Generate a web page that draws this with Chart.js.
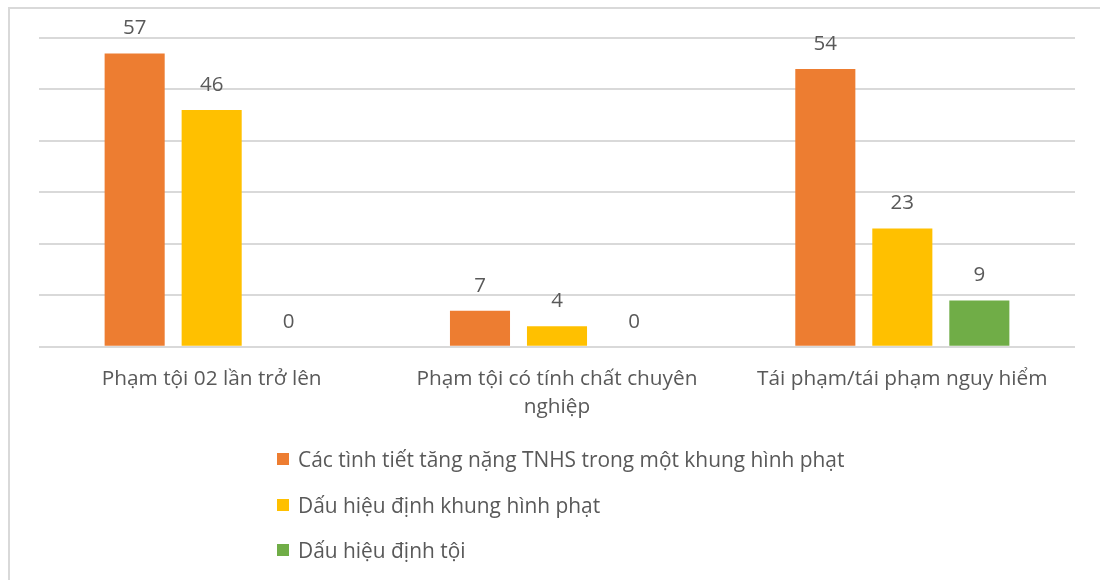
<!DOCTYPE html>
<html>
<head>
<meta charset="utf-8">
<script src="https://cdn.jsdelivr.net/npm/chart.js@4.4.1/dist/chart.umd.min.js"></script>
<style>
  html, body { margin: 0; padding: 0; background: #fff; }
  #wrap { position: relative; width: 1100px; height: 580px; overflow: hidden; }
  #frame { position: absolute; left: 8px; top: 7px; right: -10px; bottom: -10px;
           border-top: 2px solid #d9d9d9; border-left: 2px solid #d9d9d9; pointer-events: none; }
  #chart { position: absolute; left: 0; top: 0; }
  #legend { position: absolute; left: 277px; top: 444px; margin: 0; padding: 0; list-style: none;
            font-family: "Open Sans", sans-serif; font-size: 20.9px; color: #595959; }
  #legend li { display: flex; align-items: center; height: 30px; margin-bottom: 15.5px; white-space: nowrap; }
  #legend .box { display: inline-block; width: 12px; height: 12px; margin-right: 9px; }
</style>
</head>
<body>
<div id="wrap">
  <canvas id="chart" width="1100" height="580"></canvas>
  <div id="frame"></div>
  <ul id="legend"></ul>
</div>
<script>
// Categories and series
const categories = [
  'Phạm tội 02 lần trở lên',
  ['Phạm tội có tính chất chuyên', 'nghiệp'],
  'Tái phạm/tái phạm nguy hiểm'
];
const seriesNames = [
  'Các tình tiết tăng nặng TNHS trong một khung hình phạt',
  'Dấu hiệu định khung hình phạt',
  'Dấu hiệu định tội'
];
const aggravating = [57, 7, 54];
const frameSigns = [46, 4, 23];
const crimeSigns = [0, 0, 9];
const seriesColors = ['#ED7D31', '#FFC000', '#70AD47'];

const textColor = '#595959';
const fontFamily = '"Open Sans", sans-serif';

// Value labels drawn above each bar
const valueLabels = {
  id: 'valueLabels',
  afterDatasetsDraw(chart) {
    const ctx = chart.ctx;
    ctx.save();
    ctx.font = '20.5px ' + fontFamily;
    ctx.fillStyle = textColor;
    ctx.textAlign = 'center';
    ctx.textBaseline = 'middle';
    chart.data.datasets.forEach((ds, i) => {
      const meta = chart.getDatasetMeta(i);
      meta.data.forEach((bar, j) => {
        ctx.fillText(String(ds.data[j]), bar.x, bar.y - 25);
      });
    });
    ctx.restore();
  }
};

// Vertical legend list built from the chart's own legend items
const htmlLegend = {
  id: 'htmlLegend',
  afterUpdate(chart) {
    const ul = document.getElementById('legend');
    ul.innerHTML = '';
    const items = chart.options.plugins.legend.labels.generateLabels(chart);
    items.forEach(item => {
      const li = document.createElement('li');
      const box = document.createElement('span');
      box.className = 'box';
      box.style.background = item.fillStyle;
      li.appendChild(box);
      li.appendChild(document.createTextNode(item.text));
      ul.appendChild(li);
    });
  }
};

new Chart(document.getElementById('chart'), {
  type: 'bar',
  data: {
    labels: categories,
    datasets: [
      { label: seriesNames[0], data: aggravating, backgroundColor: seriesColors[0] },
      { label: seriesNames[1], data: frameSigns, backgroundColor: seriesColors[1] },
      { label: seriesNames[2], data: crimeSigns, backgroundColor: seriesColors[2] }
    ]
  },
  options: {
    responsive: false,
    animation: false,
    maintainAspectRatio: false,
    datasets: { bar: { categoryPercentage: 0.669, barPercentage: 0.78 } },
    layout: { padding: { left: 39, right: 25, top: 38, bottom: 141 } },
    plugins: {
      legend: { display: false },
      tooltip: { enabled: false }
    },
    scales: {
      x: {
        grid: { display: false, drawTicks: false },
        border: { display: false },
        ticks: {
          color: textColor,
          font: { family: fontFamily, size: 20.8, lineHeight: 1.35 },
          padding: 18,
          maxRotation: 0,
          autoSkip: false
        }
      },
      y: {
        min: 0,
        max: 60,
        ticks: { display: false, stepSize: 10 },
        grid: { color: '#d9d9d9', lineWidth: 2, drawTicks: false },
        border: { display: false }
      }
    }
  },
  plugins: [valueLabels, htmlLegend]
});
</script>
</body>
</html>
